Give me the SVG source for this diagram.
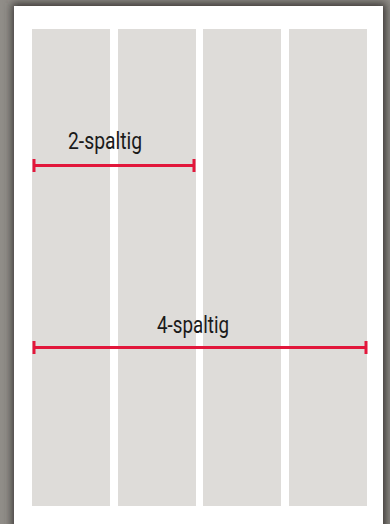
<svg xmlns="http://www.w3.org/2000/svg" width="390" height="524" viewBox="0 0 390 524">
  <defs>
    <filter id="shadow" x="-10%" y="-10%" width="120%" height="120%">
      <feGaussianBlur stdDeviation="4"/>
    </filter>
    <style>
      .col { fill: #dedcd9; }
      .measure { stroke: #e2173b; stroke-width: 3; fill: none; }
      .label { font-family: Roboto, "Liberation Sans", sans-serif; font-size: 23px; fill: #1a1a1a; }
    </style>
  </defs>
  <rect x="0" y="0" width="390" height="524" fill="#908d88"/>
  <rect x="12" y="3" width="374" height="530" fill="#3a3835" filter="url(#shadow)"/>
  <rect x="14" y="6" width="369" height="520" fill="#ffffff"/>

  <g id="column-1"><rect class="col" x="32" y="29" width="78" height="477"/></g>
  <g id="column-2"><rect class="col" x="118" y="29" width="78" height="477"/></g>
  <g id="column-3"><rect class="col" x="203" y="29" width="78" height="477"/></g>
  <g id="column-4"><rect class="col" x="289" y="29" width="78" height="477"/></g>

  <g id="connectors">
    <g id="measure-2">
      <line class="measure" x1="33" y1="165.5" x2="194" y2="165.5"/>
      <line class="measure" x1="34" y1="159" x2="34" y2="172"/>
      <line class="measure" x1="194" y1="159" x2="194" y2="172"/>
    </g>
    <g id="measure-4">
      <line class="measure" x1="33" y1="347.5" x2="366" y2="347.5"/>
      <line class="measure" x1="34" y1="341" x2="34" y2="354"/>
      <line class="measure" x1="366" y1="341" x2="366" y2="354"/>
    </g>
  </g>

  <g id="label-2">
    <text class="label" x="68" y="148.7" textLength="74" lengthAdjust="spacingAndGlyphs">2-spaltig</text>
  </g>
  <g id="label-4">
    <text class="label" x="157" y="333" textLength="72" lengthAdjust="spacingAndGlyphs">4-spaltig</text>
  </g>
</svg>
